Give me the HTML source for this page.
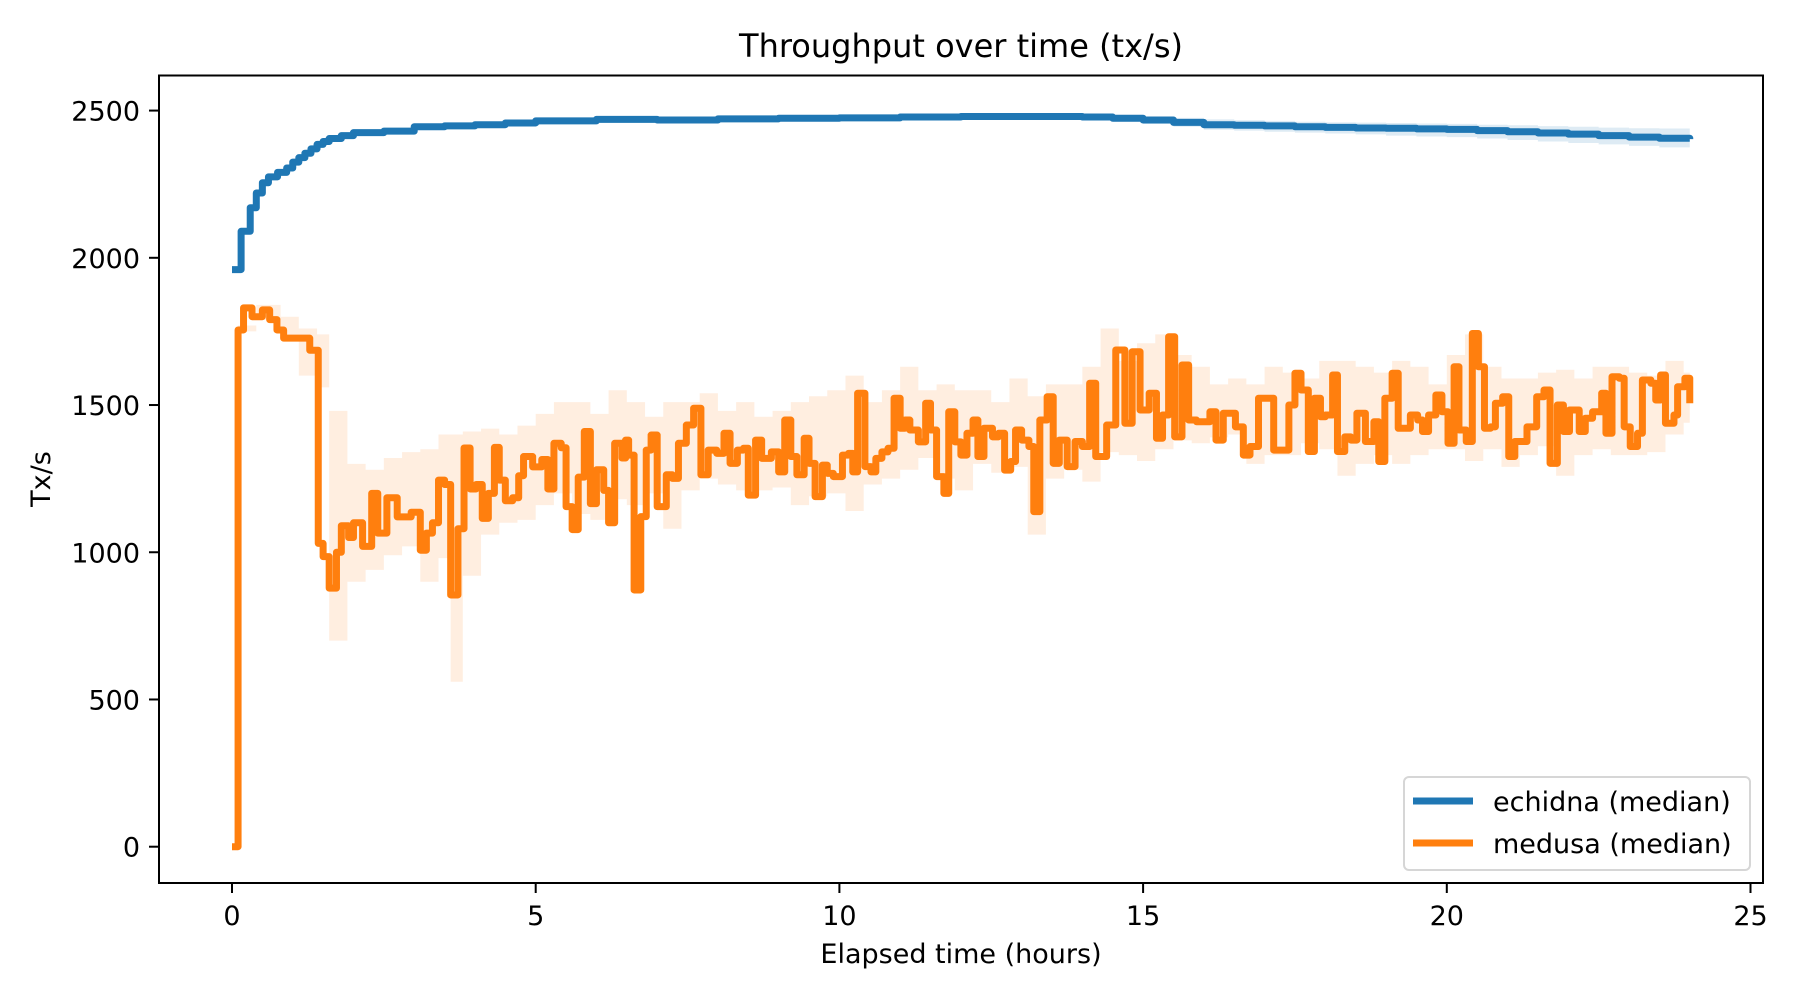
<!DOCTYPE html>
<html><head><meta charset="utf-8"><style>
html,body{margin:0;padding:0;background:#fff;}
svg{display:block;font-family:"DejaVu Sans","Liberation Sans",sans-serif;}
</style></head><body>
<svg id="chart" width="1800" height="1000" viewBox="0 0 1800 1000" xmlns="http://www.w3.org/2000/svg">
<rect width="1800" height="1000" fill="#fff"/>
<text x="961" y="57" font-size="32" text-anchor="middle" fill="#000">Throughput over time (tx/s)</text>
<g id="bands"></g>
<g id="lines"></g>
<g id="axes"></g>
<rect x="159" y="75.5" width="1604" height="807.5" fill="none" stroke="#000" stroke-width="2"/>
<text x="0" y="0" font-size="27" text-anchor="middle" transform="translate(50,479) rotate(-90)">Tx/s</text>
<text x="961" y="963" font-size="27" text-anchor="middle">Elapsed time (hours)</text>
<g>
<rect x="1404" y="777" width="346" height="93" rx="5" fill="#fff" fill-opacity="0.8" stroke="#d6d6d6" stroke-width="2"/>
<line x1="1413" y1="801" x2="1473" y2="801" stroke="#1f77b4" stroke-width="7"/>
<text x="1493" y="811" font-size="27">echidna (median)</text>
<line x1="1413" y1="843" x2="1473" y2="843" stroke="#ff7f0e" stroke-width="7"/>
<text x="1493" y="853" font-size="27">medusa (median)</text>
</g>
</svg>
<script>
const xTicks = [0, 5, 10, 15, 20, 25];
const yTicks = [0, 500, 1000, 1500, 2000, 2500];
const echidnaT = [0,0.15,0.3,0.4,0.5,0.6,0.75,0.9,1.0,1.1,1.2,1.3,1.4,1.5,1.6,1.8,2.0,2.5,3.0,3.5,4.0,4.5,5.0,6.0,7.0,8.0,9.0,10.0,11.0,12.0,13.0,13.5,14.0,14.5,15.0,15.5,16.0,16.5,17.0,17.5,18.0,18.5,19.0,19.5,20.0,20.5,21.0,21.5,22.0,22.5,23.0,23.5,24.0];
const echidnaV = [1960,2090,2170,2220,2255,2275,2290,2305,2325,2340,2355,2370,2385,2395,2405,2415,2425,2430,2445,2448,2452,2458,2465,2470,2468,2472,2474,2475,2478,2480,2480,2480,2478,2474,2468,2460,2452,2450,2448,2445,2443,2441,2440,2438,2436,2432,2428,2424,2420,2415,2410,2406,2403];
const echidnaLo = [1960,2090,2170,2220,2255,2275,2290,2305,2325,2340,2355,2370,2385,2395,2400,2410,2420,2425,2440,2443,2447,2453,2460,2465,2463,2467,2469,2470,2473,2475,2475,2475,2470,2462,2455,2445,2435,2432,2428,2425,2422,2419,2415,2412,2410,2405,2400,2395,2390,2385,2380,2375,2370];
const echidnaHi = [1960,2090,2170,2220,2255,2275,2290,2305,2325,2340,2355,2370,2385,2395,2410,2420,2430,2435,2450,2453,2457,2463,2470,2475,2473,2477,2479,2480,2483,2485,2485,2485,2485,2483,2480,2475,2470,2467,2465,2462,2460,2459,2458,2456,2455,2452,2450,2447,2445,2442,2440,2439,2438];
const medusaT = [0,0.1,0.19,0.33,0.5,0.62,0.74,0.85,1.28,1.42,1.5,1.6,1.72,1.8,1.92,2.0,2.15,2.3,2.4,2.55,2.72,2.95,3.1,3.2,3.3,3.4,3.5,3.6,3.72,3.82,3.92,4.02,4.12,4.22,4.32,4.4,4.5,4.62,4.72,4.8,4.95,5.1,5.2,5.3,5.42,5.5,5.6,5.7,5.8,5.9,6.0,6.12,6.2,6.3,6.42,6.48,6.53,6.62,6.73,6.82,6.9,7.0,7.15,7.25,7.35,7.48,7.6,7.72,7.84,7.98,8.1,8.2,8.32,8.42,8.5,8.62,8.72,8.88,9.0,9.1,9.2,9.3,9.42,9.5,9.6,9.72,9.8,9.9,10.05,10.15,10.22,10.3,10.42,10.52,10.6,10.7,10.8,10.9,11.0,11.08,11.16,11.3,11.42,11.5,11.6,11.72,11.8,11.9,12.0,12.1,12.2,12.28,12.38,12.52,12.62,12.72,12.82,12.9,13.0,13.12,13.2,13.3,13.42,13.52,13.62,13.75,13.88,14.0,14.12,14.22,14.4,14.55,14.7,14.82,14.95,15.1,15.22,15.32,15.42,15.52,15.64,15.75,15.88,16.1,16.2,16.32,16.42,16.52,16.65,16.76,16.9,17.02,17.15,17.28,17.4,17.5,17.6,17.72,17.82,17.92,18.0,18.12,18.2,18.32,18.42,18.52,18.66,18.8,18.88,18.98,19.1,19.2,19.4,19.52,19.6,19.7,19.82,19.92,20.02,20.12,20.2,20.32,20.42,20.52,20.62,20.72,20.8,20.92,21.02,21.12,21.22,21.32,21.48,21.6,21.7,21.82,21.92,22.02,22.18,22.28,22.4,22.55,22.62,22.72,22.84,22.92,23.02,23.14,23.22,23.36,23.44,23.52,23.6,23.74,23.8,23.92,24.0];
const medusaV = [0,1755,1830,1800,1823,1790,1755,1727,1686,1030,985,878,1000,1090,1050,1100,1020,1200,1065,1185,1120,1136,1007,1065,1100,1245,1230,855,1080,1354,1215,1230,1115,1200,1356,1245,1175,1185,1260,1325,1290,1315,1215,1370,1355,1155,1077,1255,1410,1165,1280,1210,1100,1370,1320,1381,1330,872,1121,1347,1398,1155,1263,1251,1370,1432,1489,1263,1347,1336,1404,1302,1347,1353,1194,1381,1319,1341,1273,1449,1325,1263,1387,1302,1189,1296,1268,1257,1330,1336,1273,1540,1291,1273,1319,1341,1353,1523,1421,1449,1415,1375,1506,1415,1257,1200,1477,1375,1330,1404,1449,1325,1421,1392,1404,1279,1308,1415,1381,1359,1138,1449,1528,1302,1381,1291,1376,1359,1574,1325,1432,1687,1438,1681,1483,1540,1387,1466,1732,1392,1636,1449,1443,1477,1381,1472,1472,1426,1330,1359,1523,1523,1347,1347,1500,1608,1551,1342,1523,1460,1466,1602,1342,1392,1381,1472,1376,1443,1308,1523,1608,1421,1466,1449,1410,1466,1534,1477,1370,1630,1415,1376,1743,1630,1421,1426,1506,1528,1325,1376,1376,1426,1528,1551,1302,1500,1410,1483,1410,1455,1477,1540,1404,1596,1591,1426,1359,1404,1585,1574,1517,1602,1438,1466,1562,1591,1506];
const bandT = [0.1,0.4,0.8,1.1,1.4,1.6,1.9,2.2,2.5,2.8,3.1,3.4,3.6,3.8,4.1,4.4,4.7,5.0,5.3,5.6,5.9,6.2,6.5,6.8,7.1,7.4,7.7,8.0,8.3,8.6,8.9,9.2,9.5,9.8,10.1,10.4,10.7,11.0,11.3,11.6,11.9,12.2,12.5,12.8,13.1,13.4,13.7,14.0,14.3,14.6,14.9,15.2,15.5,15.8,16.1,16.4,16.7,17.0,17.3,17.6,17.9,18.2,18.5,18.8,19.1,19.4,19.7,20.0,20.3,20.6,20.9,21.2,21.5,21.8,22.1,22.4,22.7,23.0,23.3,23.6,23.9];
const bandLo = [1750,1790,1720,1600,1560,700,900,940,990,1020,900,980,560,920,1060,1100,1110,1160,1200,1130,1110,1180,1160,1200,1080,1210,1250,1230,1210,1210,1220,1160,1190,1200,1140,1230,1250,1280,1320,1250,1210,1300,1270,1290,1060,1250,1280,1240,1340,1330,1310,1350,1380,1370,1390,1400,1300,1330,1330,1370,1350,1260,1300,1330,1300,1330,1350,1350,1310,1350,1290,1330,1360,1260,1330,1350,1330,1330,1340,1400,1440];
const bandHi = [1770,1840,1800,1760,1740,1480,1300,1280,1320,1340,1350,1400,1400,1410,1420,1400,1430,1470,1510,1510,1470,1550,1510,1460,1510,1510,1540,1480,1510,1460,1480,1510,1530,1550,1600,1510,1550,1630,1550,1570,1550,1550,1510,1590,1530,1570,1570,1630,1760,1650,1710,1740,1670,1630,1570,1590,1570,1630,1610,1590,1650,1650,1630,1610,1650,1630,1570,1670,1740,1630,1590,1590,1610,1620,1590,1630,1630,1610,1600,1650,1610];

const X0 = 232, XPH = 60.74, Y0 = 846.7, YPV = 0.29445;
const xs = t => X0 + t * XPH;
const ys = v => Y0 - v * YPV;
const NS = 'http://www.w3.org/2000/svg';
const axes = document.getElementById('axes');
const bands = document.getElementById('bands');
const lines = document.getElementById('lines');

function stepPath(T, V) {
  let d = 'M' + xs(T[0]) + ',' + ys(V[0]);
  for (let i = 1; i < T.length; i++) d += 'H' + xs(T[i]) + 'V' + ys(V[i]);
  return d;
}
function stepBand(T, L, H, tEnd) {
  let d = '';
  for (let i = 0; i < T.length; i++) {
    const x1 = xs(T[i]), x2 = xs(i + 1 < T.length ? T[i + 1] : tEnd);
    d += (i === 0 ? 'M' : 'L') + x1 + ',' + ys(H[i]) + 'L' + x2 + ',' + ys(H[i]);
  }
  for (let i = T.length - 1; i >= 0; i--) {
    const x1 = xs(T[i]), x2 = xs(i + 1 < T.length ? T[i + 1] : tEnd);
    d += 'L' + x2 + ',' + ys(L[i]) + 'L' + x1 + ',' + ys(L[i]);
  }
  return d + 'Z';
}

const eb = document.createElementNS(NS, 'path');


eb.setAttribute('d', stepBand(echidnaT, echidnaLo, echidnaHi, 24));
eb.setAttribute('fill', '#1f77b4'); eb.setAttribute('fill-opacity', '0.15');
bands.appendChild(eb);

const mb = document.createElementNS(NS, 'path');


mb.setAttribute('d', stepBand(bandT, bandLo, bandHi, 24));
mb.setAttribute('fill', '#ff7f0e'); mb.setAttribute('fill-opacity', '0.13');
bands.appendChild(mb);

const el = document.createElementNS(NS, 'path');


el.setAttribute('d', stepPath(echidnaT, echidnaV));
el.setAttribute('fill', 'none'); el.setAttribute('stroke', '#1f77b4');
el.setAttribute('stroke-width', '7'); el.setAttribute('stroke-linejoin', 'round');
lines.appendChild(el);

const ml = document.createElementNS(NS, 'path');


ml.setAttribute('d', stepPath(medusaT, medusaV));
ml.setAttribute('fill', 'none'); ml.setAttribute('stroke', '#ff7f0e');
ml.setAttribute('stroke-width', '7'); ml.setAttribute('stroke-linejoin', 'round');
lines.appendChild(ml);

xTicks.forEach(t => {
  const x = xs(t);
  const tk = document.createElementNS(NS, 'line');
  
  
  tk.setAttribute('x1', x); tk.setAttribute('x2', x);
  tk.setAttribute('y1', 883); tk.setAttribute('y2', 893);
  tk.setAttribute('stroke', '#000'); tk.setAttribute('stroke-width', '2');
  axes.appendChild(tk);
  const lb = document.createElementNS(NS, 'text');
  
  
  lb.setAttribute('x', x); lb.setAttribute('y', 925);
  lb.setAttribute('font-size', '27'); lb.setAttribute('text-anchor', 'middle');
  lb.textContent = String(t);
  axes.appendChild(lb);
});
yTicks.forEach(v => {
  const y = ys(v);
  const tk = document.createElementNS(NS, 'line');
  
  
  tk.setAttribute('x1', 149); tk.setAttribute('x2', 159);
  tk.setAttribute('y1', y); tk.setAttribute('y2', y);
  tk.setAttribute('stroke', '#000'); tk.setAttribute('stroke-width', '2');
  axes.appendChild(tk);
  const lb = document.createElementNS(NS, 'text');
  
  
  lb.setAttribute('x', 140); lb.setAttribute('y', y + 10);
  lb.setAttribute('font-size', '27'); lb.setAttribute('text-anchor', 'end');
  lb.textContent = String(v);
  axes.appendChild(lb);
});
</script>
</body></html>
